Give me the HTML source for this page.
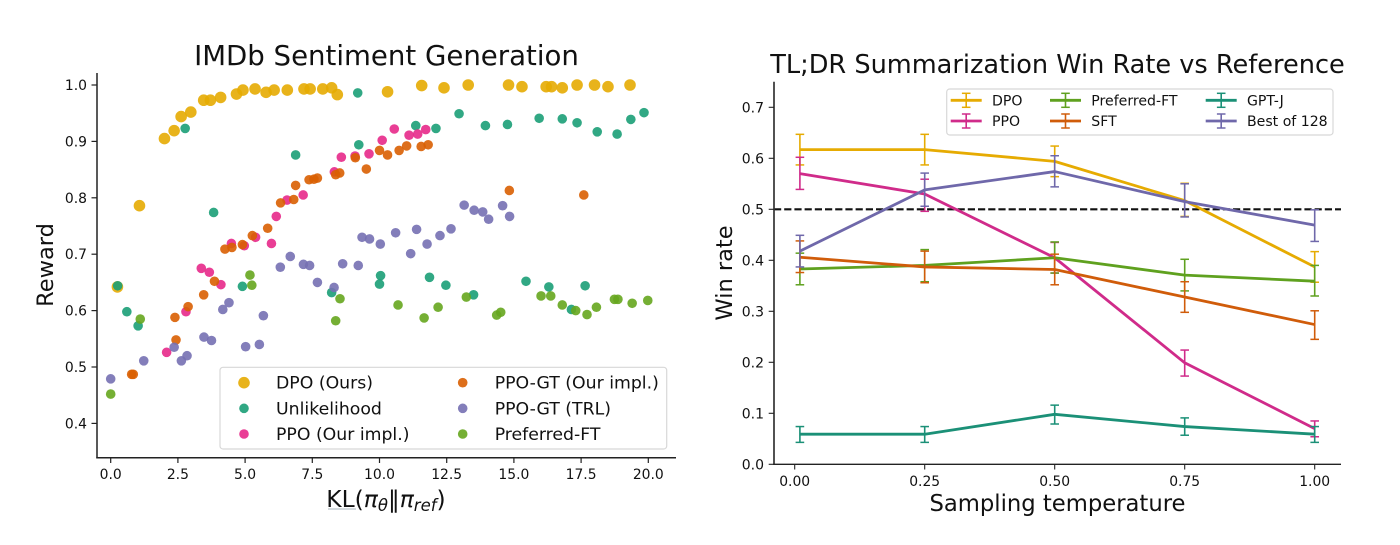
<!DOCTYPE html>
<html lang="en">
<head>
<meta charset="utf-8">
<title>IMDb Sentiment Generation and TL;DR Summarization Win Rate</title>
<style>
html,body{margin:0;padding:0;background:#fff;}
body{width:1400px;height:545px;overflow:hidden;}
svg{display:block;font-family:"DejaVu Sans","Liberation Sans",sans-serif;fill:#111;}
</style>
</head>
<body>
<svg id="figure" xmlns="http://www.w3.org/2000/svg" width="1400" height="545" viewBox="0 0 1400 545">
  <rect width="1400" height="545" fill="#fff"/>
  <g id="scatter">
    <text x="386.5" y="65" text-anchor="middle" font-size="27.6">IMDb Sentiment Generation</text>
    <text transform="translate(53,265) rotate(-90)" text-anchor="middle" font-size="22.5">Reward</text>
    <text x="386" y="507" text-anchor="middle" font-size="23.4">KL(<tspan font-style="italic">π</tspan><tspan font-style="italic" font-size="16.5" dy="4">θ</tspan><tspan dy="-4">‖</tspan><tspan font-style="italic">π</tspan><tspan font-style="italic" font-size="16.5" dy="4">ref</tspan><tspan dy="-4">)</tspan></text>
    <line x1="328" x2="356" y1="509" y2="509" stroke="#a9b4bd" stroke-width="1"/>
  </g>
  <g id="lines">
    <text x="1057.5" y="73" text-anchor="middle" font-size="25.6">TL;DR Summarization Win Rate vs Reference</text>
    <text transform="translate(732,273) rotate(-90)" text-anchor="middle" font-size="22.5">Win rate</text>
    <text x="1057.5" y="511" text-anchor="middle" font-size="22.7">Sampling temperature</text>
  </g>
</svg>
<script>
/* ---------- Scatter chart data ---------- */
var scatterXTicks = [0, 2.5, 5, 7.5, 10, 12.5, 15, 17.5, 20];
var scatterXTickLabels = ['0.0', '2.5', '5.0', '7.5', '10.0', '12.5', '15.0', '17.5', '20.0'];
var scatterYTicks = [0.4, 0.5, 0.6, 0.7, 0.8, 0.9, 1.0];
var scatterYTickLabels = ['0.4', '0.5', '0.6', '0.7', '0.8', '0.9', '1.0'];

var dpoX = [0.25, 1.07, 2.0, 2.36, 2.62, 2.98, 3.46, 3.71, 4.09, 4.68, 4.92, 5.37, 5.78, 6.08, 6.57, 7.19, 7.42, 7.89, 8.22, 8.43, 10.3, 11.57, 12.4, 13.3, 14.8, 15.3, 16.2, 16.4, 16.8, 17.35, 18.0, 18.5, 19.32];
var dpoY = [0.642, 0.786, 0.905, 0.919, 0.944, 0.952, 0.973, 0.973, 0.978, 0.984, 0.991, 0.993, 0.987, 0.991, 0.991, 0.993, 0.993, 0.993, 0.995, 0.983, 0.988, 0.999, 0.995, 1.0, 1.0, 0.997, 0.997, 0.997, 0.995, 1.0, 1.0, 0.997, 1.0];

var unlikelihoodX = [0.26, 0.6, 1.02, 2.77, 3.83, 4.9, 6.88, 8.22, 9.19, 9.23, 10.0, 10.04, 11.35, 11.86, 12.1, 12.47, 12.96, 13.5, 13.94, 14.76, 15.45, 15.94, 16.3, 16.8, 17.14, 17.35, 17.65, 18.1, 18.84, 19.35, 19.84];
var unlikelihoodY = [0.644, 0.598, 0.573, 0.923, 0.774, 0.643, 0.876, 0.632, 0.986, 0.894, 0.647, 0.662, 0.928, 0.659, 0.923, 0.645, 0.949, 0.628, 0.928, 0.93, 0.652, 0.941, 0.642, 0.94, 0.602, 0.933, 0.644, 0.917, 0.913, 0.939, 0.951];

var ppoX = [2.08, 2.8, 3.37, 3.67, 4.1, 4.49, 4.97, 5.39, 5.98, 6.16, 6.56, 7.16, 8.32, 8.58, 9.09, 9.61, 10.1, 10.55, 11.1, 11.42, 11.72];
var ppoY = [0.526, 0.598, 0.675, 0.668, 0.646, 0.719, 0.715, 0.73, 0.719, 0.767, 0.796, 0.805, 0.846, 0.872, 0.874, 0.878, 0.902, 0.922, 0.911, 0.913, 0.921];

var ppoGtX = [0.78, 0.84, 2.39, 2.43, 2.88, 3.46, 3.86, 4.25, 4.51, 4.9, 5.27, 5.84, 6.32, 6.81, 6.88, 7.38, 7.56, 7.69, 8.37, 8.52, 9.1, 9.51, 10.0, 10.3, 10.73, 11.01, 11.55, 11.81, 14.83, 17.6];
var ppoGtY = [0.487, 0.487, 0.588, 0.548, 0.607, 0.628, 0.652, 0.709, 0.712, 0.717, 0.733, 0.746, 0.791, 0.797, 0.822, 0.832, 0.833, 0.835, 0.841, 0.844, 0.871, 0.851, 0.884, 0.876, 0.884, 0.892, 0.891, 0.894, 0.813, 0.805];

var trlX = [0, 1.23, 2.36, 2.63, 2.84, 3.47, 3.75, 4.17, 4.4, 5.02, 5.53, 5.68, 6.31, 6.68, 7.17, 7.4, 7.69, 8.31, 8.63, 9.21, 9.35, 9.63, 10.03, 10.6, 11.16, 11.38, 11.77, 12.25, 12.66, 13.15, 13.52, 13.84, 14.06, 14.58, 14.84];
var trlY = [0.479, 0.511, 0.535, 0.511, 0.52, 0.553, 0.547, 0.602, 0.614, 0.536, 0.54, 0.591, 0.677, 0.696, 0.682, 0.68, 0.65, 0.641, 0.683, 0.68, 0.73, 0.727, 0.718, 0.738, 0.701, 0.744, 0.718, 0.733, 0.745, 0.787, 0.778, 0.775, 0.762, 0.786, 0.767];

var ftX = [0, 1.1, 5.18, 5.25, 8.37, 8.53, 10.69, 11.66, 12.18, 13.23, 14.36, 14.51, 16.01, 16.37, 16.8, 17.3, 17.72, 18.07, 18.74, 18.87, 19.4, 19.98];
var ftY = [0.452, 0.585, 0.663, 0.645, 0.582, 0.621, 0.61, 0.587, 0.606, 0.624, 0.592, 0.597, 0.626, 0.626, 0.61, 0.6, 0.593, 0.606, 0.62, 0.62, 0.613, 0.618];

/* ---------- Line chart data ---------- */
var temperatures = [0.01, 0.25, 0.5, 0.75, 1.0];
var lineXTicks = [0, 0.25, 0.5, 0.75, 1.0];
var lineXTickLabels = ['0.00', '0.25', '0.50', '0.75', '1.00'];
var lineYTicks = [0, 0.1, 0.2, 0.3, 0.4, 0.5, 0.6, 0.7];
var lineYTickLabels = ['0.0', '0.1', '0.2', '0.3', '0.4', '0.5', '0.6', '0.7'];
var referenceRate = 0.5;

var dpoRate = [0.617, 0.617, 0.594, 0.517, 0.387];
var dpoUpper = [0.647, 0.647, 0.624, 0.551, 0.417];
var dpoLower = [0.587, 0.587, 0.564, 0.486, 0.357];

var ppoRate = [0.57, 0.53, 0.405, 0.199, 0.07];
var ppoUpper = [0.602, 0.559, 0.435, 0.224, 0.085];
var ppoLower = [0.539, 0.496, 0.375, 0.173, 0.054];

var preferredRate = [0.383, 0.39, 0.405, 0.371, 0.359];
var preferredUpper = [0.414, 0.421, 0.436, 0.402, 0.39];
var preferredLower = [0.352, 0.358, 0.375, 0.34, 0.33];

var sftRate = [0.406, 0.387, 0.382, 0.328, 0.274];
var sftUpper = [0.438, 0.418, 0.412, 0.358, 0.301];
var sftLower = [0.376, 0.356, 0.352, 0.298, 0.245];

var gptjRate = [0.059, 0.059, 0.098, 0.074, 0.059];
var gptjUpper = [0.074, 0.074, 0.116, 0.091, 0.074];
var gptjLower = [0.043, 0.043, 0.079, 0.057, 0.043];

var best128Rate = [0.418, 0.538, 0.574, 0.515, 0.469];
var best128Upper = [0.449, 0.571, 0.605, 0.55, 0.499];
var best128Lower = [0.387, 0.506, 0.544, 0.485, 0.437];

/* ---------- Helpers ---------- */
var NS = 'http://www.w3.org/2000/svg';
function mk(tag, props, parent) {
  var el = document.createElementNS(NS, tag);
  for (var k in props) { el.setAttribute(k, props[k]); }
  parent.appendChild(el);
  return el;
}
function sx(v) { return 110.7 + 26.88 * v; }
function sy(v) { return 85 + (1 - v) * 564; }
function lx(v) { return 794.7 + 520 * v; }
function ly(v) { return 464.3 - 510 * v; }

/* ---------- Scatter chart ---------- */
var scatter = document.getElementById('scatter');

var scatterSeries = [
  { name: 'dpo', label: 'DPO (Ours)', color: '#e6ab02', r: 5.8, xs: dpoX, ys: dpoY },
  { name: 'unlikelihood', label: 'Unlikelihood', color: '#1b9e77', r: 4.8, xs: unlikelihoodX, ys: unlikelihoodY },
  { name: 'ppo', label: 'PPO (Our impl.)', color: '#e7298a', r: 4.8, xs: ppoX, ys: ppoY },
  { name: 'ppo-gt-ours', label: 'PPO-GT (Our impl.)', color: '#d95f02', r: 4.8, xs: ppoGtX, ys: ppoGtY },
  { name: 'ppo-gt-trl', label: 'PPO-GT (TRL)', color: '#7570b3', r: 4.8, xs: trlX, ys: trlY },
  { name: 'preferred-ft', label: 'Preferred-FT', color: '#66a61e', r: 4.8, xs: ftX, ys: ftY }
];

scatterSeries.forEach(function (s) {
  var g = mk('g', { fill: s.color, 'fill-opacity': 0.9 }, scatter);
  
  
  s.xs.forEach(function (x, i) {
    var c = mk('circle', { cx: sx(x).toFixed(2), cy: sy(s.ys[i]).toFixed(2), r: s.r }, g);
    
    
  });
});

function axisLine(parent, x1, y1, x2, y2, name, color, width) {
  var l = mk('line', { x1: x1, y1: y1, x2: x2, y2: y2, stroke: color, 'stroke-width': width }, parent);
  
  
  return l;
}
function tickText(parent, x, y, anchor, str, size, name) {
  var t = mk('text', { x: x, y: y, 'text-anchor': anchor, 'font-size': size }, parent);
  t.textContent = str;
  
  
  return t;
}

axisLine(scatter, 97, 73, 97, 458.4, 'scatter-y-axis-line', '#222', 1.5);
axisLine(scatter, 96.3, 457.7, 676, 457.7, 'scatter-x-axis-line', '#222', 1.5);
scatterXTicks.forEach(function (v, i) {
  axisLine(scatter, sx(v), 457.7, sx(v), 463, 'scatter-x-tick', '#222', 1.2);
  tickText(scatter, sx(v), 479, 'middle', scatterXTickLabels[i], 13.9, 'scatter-x-tick-label');
});
scatterYTicks.forEach(function (v, i) {
  axisLine(scatter, 91.5, sy(v), 97, sy(v), 'scatter-y-tick', '#222', 1.2);
  tickText(scatter, 87, sy(v) + 5, 'end', scatterYTickLabels[i], 13.9, 'scatter-y-tick-label');
});

var scatterLegend = mk('g', {}, scatter);


var scatterBox = mk('rect', { x: 220, y: 367.3, width: 446.7, height: 81.7, rx: 3, fill: '#fff', 'fill-opacity': 0.85, stroke: '#d8d8d8', 'stroke-width': 1.2 }, scatterLegend);


scatterSeries.forEach(function (s, i) {
  var col = i < 3 ? 0 : 1;
  var row = i % 3;
  var mx = col === 0 ? 244 : 462.7;
  var tx = col === 0 ? 276 : 494.7;
  var my = 382.7 + row * 25.65;
  var m = mk('circle', { cx: mx, cy: my, r: s.r, fill: s.color, 'fill-opacity': 0.9 }, scatterLegend);
  
  
  tickText(scatterLegend, tx, my + 6, 'start', s.label, 17.3, 'legend-entry-' + s.name);
});

/* ---------- Line chart ---------- */
var lines = document.getElementById('lines');

var lineSeries = [
  { name: 'dpo', label: 'DPO', color: '#e6ab02', vals: dpoRate, up: dpoUpper, lo: dpoLower, hx: 950.7, ly: 100.3 },
  { name: 'ppo', label: 'PPO', color: '#d02b8a', vals: ppoRate, up: ppoUpper, lo: ppoLower, hx: 950.7, ly: 121 },
  { name: 'preferred-ft', label: 'Preferred-FT', color: '#5fa11f', vals: preferredRate, up: preferredUpper, lo: preferredLower, hx: 1050, ly: 100.3 },
  { name: 'sft', label: 'SFT', color: '#d05c0a', vals: sftRate, up: sftUpper, lo: sftLower, hx: 1050, ly: 121 },
  { name: 'gpt-j', label: 'GPT-J', color: '#1b9077', vals: gptjRate, up: gptjUpper, lo: gptjLower, hx: 1205.7, ly: 100.3 },
  { name: 'best-of-128', label: 'Best of 128', color: '#6f68aa', vals: best128Rate, up: best128Upper, lo: best128Lower, hx: 1205.7, ly: 121 }
];

var refLine = axisLine(lines, 774, ly(referenceRate), 1341, ly(referenceRate), 'reference-line-0-5', '#111', 2.2);
refLine.setAttribute('stroke-dasharray', '7.2 3');

lineSeries.forEach(function (s) {
  var g = mk('g', { stroke: s.color, fill: 'none' }, lines);
  
  
  var pts = temperatures.map(function (t, i) { return lx(t).toFixed(2) + ',' + ly(s.vals[i]).toFixed(2); }).join(' ');
  var pl = mk('polyline', { points: pts, 'stroke-width': 2.8, 'stroke-linejoin': 'round' }, g);
  
  
  temperatures.forEach(function (t, i) {
    var x = lx(t), top = ly(s.up[i]), bot = ly(s.lo[i]);
    axisLine(g, x, top, x, bot, 'error-bar-' + s.name, s.color, 1.6);
    axisLine(g, x - 4.3, top, x + 4.3, top, 'error-cap-top-' + s.name, s.color, 1.5);
    axisLine(g, x - 4.3, bot, x + 4.3, bot, 'error-cap-bottom-' + s.name, s.color, 1.5);
  });
});

axisLine(lines, 774, 81.7, 774, 465, 'line-y-axis-line', '#333', 1.7);
axisLine(lines, 773.3, 464.3, 1341, 464.3, 'line-x-axis-line', '#222', 1.3);
lineXTicks.forEach(function (v, i) {
  axisLine(lines, lx(v), 464.3, lx(v), 469.5, 'line-x-tick', '#222', 1.1);
  tickText(lines, lx(v), 486, 'middle', lineXTickLabels[i], 13.9, 'line-x-tick-label');
});
lineYTicks.forEach(function (v, i) {
  axisLine(lines, 768.7, ly(v), 774, ly(v), 'line-y-tick', '#222', 1.1);
  tickText(lines, 764, ly(v) + 5, 'end', lineYTickLabels[i], 14, 'line-y-tick-label');
});

var lineLegend = mk('g', {}, lines);


var lineBox = mk('rect', { x: 946.7, y: 89, width: 386.3, height: 46, rx: 3, fill: '#fff', 'fill-opacity': 0.85, stroke: '#d8d8d8', 'stroke-width': 1.2 }, lineLegend);


lineSeries.forEach(function (s) {
  var mid = s.hx + 15.5;
  axisLine(lineLegend, s.hx, s.ly, s.hx + 31, s.ly, 'legend-line-' + s.name, s.color, 2.8);
  axisLine(lineLegend, mid, s.ly - 7, mid, s.ly + 7, 'legend-error-bar-' + s.name, s.color, 1.6);
  axisLine(lineLegend, mid - 4.3, s.ly - 7, mid + 4.3, s.ly - 7, 'legend-cap-top-' + s.name, s.color, 1.5);
  axisLine(lineLegend, mid - 4.3, s.ly + 7, mid + 4.3, s.ly + 7, 'legend-cap-bottom-' + s.name, s.color, 1.5);
  tickText(lineLegend, s.hx + 41.3, s.ly + 5, 'start', s.label, 14.1, 'legend-entry-' + s.name);
});
</script>
</body>
</html>
